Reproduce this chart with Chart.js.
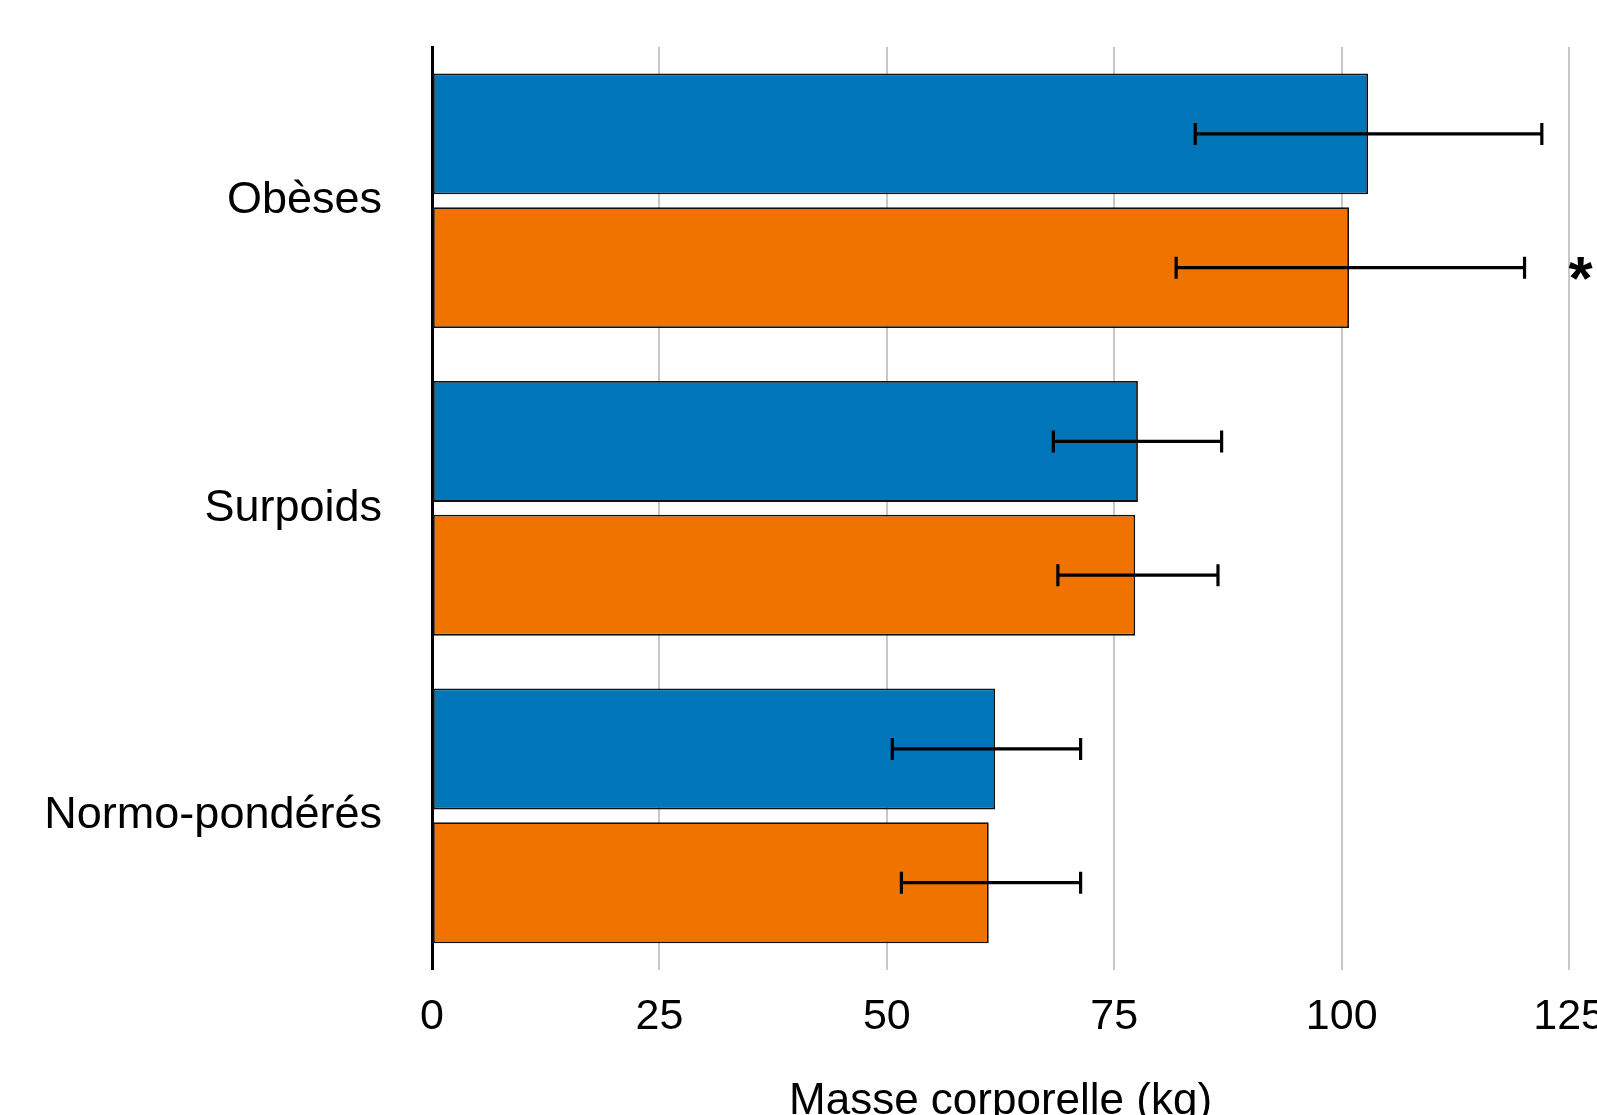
<!DOCTYPE html>
<html>
<head>
<meta charset="utf-8">
<script src="https://cdn.jsdelivr.net/npm/chart.js@4.4.1/dist/chart.umd.min.js"></script>
<style>
    html, body { margin: 0; padding: 0; background: #fff; overflow: hidden; }
    #wrap { position: absolute; left: 0; top: -30px; width: 1627px; height: 1158px; }
</style>
</head>
<body>
<div id="wrap"><canvas id="canvas"></canvas></div>
<script>
const groupes = ['Obèses', 'Surpoids', 'Normo-pondérés'];

// masse moyenne (kg) et écarts, série bleue
const masseBleue = [102.9, 77.6, 61.9];
const errBasBleue = [19.0, 9.3, 11.3];
const errHautBleue = [19.1, 9.2, 9.4];

// série orange
const masseOrange = [100.8, 77.3, 61.2];
const errBasOrange = [19.0, 8.5, 9.6];
const errHautOrange = [19.3, 9.1, 10.1];

// différence significative
const signifOrange = ['*', '', ''];

const ticksX = [0, 25, 50, 75, 100, 125];

const FONT = '"Liberation Sans", Arial, Helvetica, sans-serif';

// barres d'erreur + astérisque
const errorBars = {
    id: 'errorBars',
    afterDatasetsDraw(chart) {
        const ctx = chart.ctx;
        const x = chart.scales.x;
        chart.data.datasets.forEach((ds, di) => {
            const meta = chart.getDatasetMeta(di);
            meta.data.forEach((bar, i) => {
                const v = ds.data[i];
                const x1 = x.getPixelForValue(v - ds.errBas[i]);
                const x2 = x.getPixelForValue(v + ds.errHaut[i]);
                const y = bar.y;
                ctx.save();
                ctx.strokeStyle = '#000';
                ctx.lineWidth = 3.2;
                ctx.beginPath();
                ctx.moveTo(x1, y);
                ctx.lineTo(x2, y);
                ctx.moveTo(x1, y - 11);
                ctx.lineTo(x1, y + 11);
                ctx.moveTo(x2, y - 11);
                ctx.lineTo(x2, y + 11);
                ctx.stroke();
                if (ds.signif && ds.signif[i]) {
                    ctx.fillStyle = '#000';
                    ctx.font = 'bold 62px ' + FONT;
                    ctx.textAlign = 'center';
                    ctx.textBaseline = 'middle';
                    ctx.fillText(ds.signif[i], x2 + 56, y + 14);
                }
                ctx.restore();
            });
        });
    }
};

const canvas = document.getElementById('canvas');
const chart = new Chart(canvas, {
    type: 'bar',
    data: {
        labels: groupes,
        datasets: [
            {
                label: 'Série 1',
                data: masseBleue,
                errBas: errBasBleue,
                errHaut: errHautBleue,
                backgroundColor: 'rgb(0, 117, 186)',
                borderColor: '#111',
                borderWidth: 1.8,
                borderSkipped: false
            },
            {
                label: 'Série 2',
                data: masseOrange,
                errBas: errBasOrange,
                errHaut: errHautOrange,
                signif: signifOrange,
                backgroundColor: 'rgb(240, 115, 0)',
                borderColor: '#111',
                borderWidth: 1.8,
                borderSkipped: false
            }
        ]
    },
    options: {
        indexAxis: 'y',
        responsive: true,
        maintainAspectRatio: false,
        animation: false,
        categoryPercentage: 0.87,
        barPercentage: 0.904,
        layout: { padding: { top: 5, left: 0, right: 0, bottom: 0 } },
        plugins: {
            legend: { display: false },
            tooltip: { enabled: false }
        },
        scales: {
            x: {
                type: 'linear',
                min: 0,
                max: 125,
                afterBuildTicks: axis => {
                    axis.ticks = ticksX.map(v => ({ value: v }));
                },
                grid: {
                    color: '#c8c8c8',
                    lineWidth: 2,
                    drawTicks: false
                },
                border: { display: false },
                ticks: {
                    color: '#000',
                    font: { family: FONT, size: 43 },
                    padding: 22,
                    maxRotation: 0
                },
                title: {
                    display: true,
                    text: 'Masse corporelle (kg)',
                    color: '#000',
                    font: { family: FONT, size: 44 },
                    padding: { top: 10, bottom: 0 }
                }
            },
            y: {
                grid: { display: false, drawTicks: false },
                border: { display: true, color: '#000', width: 3 },
                ticks: {
                    color: '#000',
                    font: { family: FONT, size: 45 },
                    padding: 50
                },
                afterFit: axis => { axis.width = 432; }
            }
        }
    },
    plugins: [errorBars]
});
</script>
</body>
</html>
